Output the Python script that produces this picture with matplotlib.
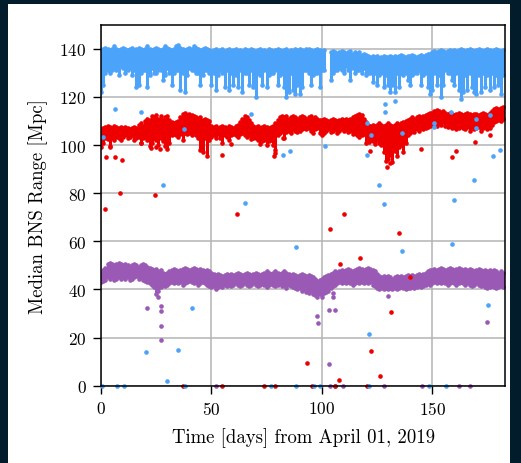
import numpy as np
import matplotlib
matplotlib.use("Agg")
import matplotlib.pyplot as plt
from matplotlib.patches import Rectangle

plt.rcParams['font.family'] = 'serif'
plt.rcParams['font.serif'] = ['cmr10']
plt.rcParams['mathtext.fontset'] = 'cm'
plt.rcParams['axes.formatter.use_mathtext'] = True

nan = np.nan

# daily upper / lower edge of each detector's range band (Mpc), day 0 = April 1
blue_top = [
    139, 140, 140.5, 140, 139.5, 140, 141, 140, 139.5, 140,
    140.5, 140, 139.5, 140, 140.5, 139, 140, 140.5, 140, 139.5,
    140, 141, 140, 139.5, 140, 140.5, 140, 139.5, 140, 141,
    140.5, 140, 139.5, 140, 141, 141.5, 140.5, 140, 139.5, 140,
    140.5, 140, 141, 140.5, 140, 139.5, 140, 140.5, 140, 139.5,
    139, 139.5, 140, 139, 139.5, 140, 139, 139.5, 140, 139,
    139.5, 140, 139, 139.5, 139, 140, 139.5, 139, 140, 139.5,
    139, 139.5, 140, 139, 139.5, 139, 140, 139.5, 139, 139.5,
    140, 139.5, 139, 139.5, 140, 139, 139.5, 139, 140, 139.5,
    140, 139.5, 139, 140, 140, 139.5, 139, 139.5, 140, 139.5,
    139, 139.5, nan, nan, 138.5, 139, 138.5, 138, 138.5, 139,
    138.5, 138, 138.5, 139, 138, 138.5, 138, 138.5, 137.5, 138,
    137.5, 137, 136.5, 137, 136.5, 137, 136, 136.5, 137, 136.5,
    136.5, 137, 136.5, 137, 136.5, 137, 137.5, 137, 136.5, 137,
    137, 137.5, 137, 136.5, 137, 137.5, 137, 137.5, 138, 138,
    138.5, 139, 138.5, 139, 139.5, 139, 138.5, 139, 139.5, 139,
    139.5, 139, 139.5, 140, 139.5, 139, 139.5, 140, 139.5, 139,
    139.5, 140, 139.5, 139, 139.5, 140, 139.5, 139, 139.5, 140,
    139.5, 139, 139.5,
]
blue_low = [
    122, 125, 130, 131, 130, 131, 132, 131, 129, 133,
    132, 130, 131, 132, 129, 131, 124, 125, 130, 131,
    131, 124, 129, 132, 130, 130, 131, 131, 127, 129,
    132, 130, 125, 130, 131, 131, 123, 130, 122, 129,
    132, 131, 131, 130, 130, 125, 129, 131, 131, 130,
    125, 130, 123, 129, 131, 130, 124, 131, 123, 130,
    125, 129, 124, 131, 122, 130, 130, 125, 131, 124,
    120, 130, 129, 125, 131, 124, 129, 130, 130, 131,
    125, 129, 130, 124, 120, 122, 130, 123, 121, 125,
    121, 124, 131, 131, 130, 125, 129, 130, 130, 124,
    131, 131, nan, nan, 127, 130, 131, 131, 132, 131,
    130, 133, 131, 127, 132, 130, 131, 131, 130, 132,
    129, 130, 130, 126, 130, 125, 129, 130, 124, 129,
    125, 122, 125, 122, 130, 124, 130, 129, 130, 127,
    125, 129, 130, 130, 131, 125, 129, 130, 124, 121,
    123, 130, 125, 129, 120, 125, 131, 130, 130, 127,
    125, 130, 123, 119, 122, 129, 123, 130, 124, 122,
    121, 129, 122, 130, 124, 129, 123, 130, 124, 129,
    125, 121, 129,
]

red_top = [
    106.5, 107, 107.5, 108, 107.5, 107, 108, 107.5, 107, 107.5,
    107, 107.5, 107, 106.5, 107, 107.5, 107, 108.5, 109, 108,
    110, 111, 110.5, 112, 111.5, 112.5, 111, 112, 110.5, 111.5,
    112, 110.5, 109.5, 109, 109.5, 110, 111.5, 113, 113.5, 112.5,
    113, 112.5, 112, 111.5, 111, 111.5, 110.5, 111, 110.5, 110,
    108, 107.5, 108, 107, 107.5, 108, 107.5, 107, 108, 107.5,
    107, 108, 108.5, 109.5, 111, 112, 111.5, 110.5, 109, 108,
    107.5, 108, 107, 107.5, 108, 107.5, 107, 107.5, 108, 109,
    110.5, 111.5, 112, 111.5, 112, 111, 111.5, 112, 111.5, 111,
    111.5, 112, 111.5, 111, 111.5, 112, 111, 111.5, 111, 110.5,
    110.5, 111, 110.5, 110, 110.5, 111, 110.5, 110, 110.5, 111,
    110.5, 111, 110.5, 111, 111.5, 112, 112.5, 113, 112.5, 111,
    109.5, 108.5, 108, 108.5, 108, 108.5, 109, 108.5, 108, 108.5,
    109, 108.5, 108, 108.5, 109, 108.5, 109, 109.5, 110, 110.5,
    111, 111.5, 111, 111.5, 112, 111.5, 112, 112.5, 113, 113.5,
    113.5, 114, 114.5, 114, 113.5, 114, 113.5, 113, 113.5, 113,
    112.5, 113, 113.5, 113, 112.5, 113, 113.5, 113, 112.5, 113,
    113, 112.5, 113, 113.5, 113, 112.5, 113.5, 114, 115, 115.5,
    115, 115.5, 116,
]
red_low = [
    99, 101, 103, 102.5, 99.5, 103, 102, 103.5, 103, 102,
    103.5, 104, 103, 103.5, 104, 102, 103, 103.5, 101, 103,
    103.5, 102, 99.5, 101, 103, 102, 100, 103, 101.5, 99.5,
    98.5, 101, 104, 104.5, 104, 103.5, 104.5, 102, 105, 104.5,
    105, 104, 105.5, 104, 103, 98, 97, 103, 95.5, 102,
    103.5, 104, 103, 104.5, 103, 101, 104, 103.5, 102, 104,
    104.5, 104, 103.5, 104.5, 105, 104, 103.5, 104, 102.5, 103,
    103, 102, 100.5, 101.5, 102, 100, 101.5, 102, 100, 98,
    104, 105, 106, 103, 105.5, 106, 105, 106.5, 106, 105.5,
    106, 106.5, 107, 106.5, 107, 106, 105, 106.5, 107, 105,
    104, 105, 106, 106.5, 105.5, 106, 106.5, 105, 106, 106.5,
    106, 106.5, 105.5, 106, 104.5, 105, 104, 103.5, 104, 104.5,
    101, 103, 102, 101.5, 100.5, 102, 101, 100, 97, 93.5,
    94, 96, 93, 97.5, 95.5, 99, 100, 97, 101, 104,
    105, 106, 105.5, 106.5, 106, 107, 106.5, 107, 107.5, 108,
    108.5, 109, 108, 109, 108.5, 109.5, 108, 107.5, 108, 107,
    107.5, 106.5, 107, 108, 107, 106.5, 107.5, 106, 107, 106.5,
    107, 107.5, 106, 107, 107.5, 106.5, 107, 108.5, 109.5, 110,
    110.5, 110, 111,
]

purple_top = [
    47, 48, 49, 50.5, 51, 50.5, 50, 50.5, 51, 50.5,
    50, 50.5, 50, 49.5, 50, 50.5, 50, 49.5, 50, 50.5,
    50, 49.5, 49, 48.5, 48, 48.5, 47.5, 48, 47, 46.5,
    47, 47.5, 48, 48.5, 48, 47.5, 48, 48.5, 49, 48.5,
    48, 48.5, 49, 48.5, 48, 48.5, 48, 47.5, 48, 47.5,
    47, 46.5, 46, 46.5, 46, 45.5, 46, 46.5, 46, 46.5,
    46, 46.5, 47, 46.5, 46, 46.5, 47, 46.5, 46, 46.5,
    47, 46.5, 46, 46.5, 47, 47.5, 47, 46.5, 47, 47.5,
    47, 46.5, 47, 47.5, 47, 46.5, 46, 46.5, 46, 45.5,
    46, 46.5, 46, 45.5, 46, 45.5, 45, 44.5, 43.5, 44,
    44.5, 45, 45.5, 46, 46.5, 47, 47.5, 47, 47.5, 48,
    47.5, 48, 48.5, 48, 47.5, 48, 48.5, 49, 48.5, 48,
    48.5, 49, 48.5, 48, 47.5, 46.5, 45.5, 45, 45.5, 45,
    45.5, 45, 44.5, 45, 45.5, 45, 45.5, 45, 45.5, 46,
    45.5, 46, 45.5, 46, 46.5, 46, 46.5, 47, 47.5, 48,
    48, 48.5, 48, 48.5, 49, 48.5, 48, 48.5, 49, 48.5,
    48, 48.5, 49, 48.5, 48, 48.5, 48, 48.5, 48, 47.5,
    48, 48.5, 48, 47.5, 48, 47.5, 48, 47.5, 48, 47.5,
    47, 47.5, 47,
]
purple_low = [
    43, 43.5, 44, 45, 44.5, 45, 44, 44.5, 45, 44.5,
    45, 44.5, 45, 44, 44.5, 45, 45.5, 44.5, 45, 44,
    43.5, 43, 42.5, 42, 41, 38, 40.5, 41, 42, 41.5,
    42, 42.5, 43, 42.5, 43, 42.5, 43, 42, 42.5, 43,
    43.5, 43, 42.5, 43, 42, 42.5, 43, 42.5, 42, 41.5,
    41, 41.5, 40, 41, 41.5, 41, 42, 41.5, 42, 41.5,
    42, 42.5, 42, 41.5, 42, 42.5, 42, 41.5, 42, 42.5,
    42, 41.5, 42, 42.5, 42, 41, 42, 42.5, 42, 41.5,
    42, 42.5, 41.5, 42, 40.5, 42, 41.5, 41, 40.5, 40,
    40.5, 39.5, 40, 39, 38.5, 39.5, 38, 37.5, 37, 38,
    37, 38.5, 39, 39.5, 40.5, 41.5, 42, 42.5, 43, 42.5,
    43, 42.5, 43, 42.5, 42, 42.5, 43, 42.5, 43, 42.5,
    43, 42.5, 43, 42, 41.5, 40.5, 40, 40.5, 40, 40.5,
    40, 40.5, 40, 40.5, 40, 40.5, 41, 40.5, 40, 40.5,
    40.5, 41, 40.5, 41, 41.5, 41, 41.5, 42, 42.5, 42,
    42.5, 43, 42.5, 43, 42.5, 43, 42.5, 42, 42.5, 43,
    42.5, 42, 42.5, 43, 42.5, 42, 42.5, 42, 41.5, 42,
    42.5, 42, 41.5, 42, 41, 40.5, 41, 41.5, 41, 40.5,
    41, 41.5, 41,
]

# isolated samples away from the bands: (day, range)
blue_extra = [
    (0.3, 0), (7.1, 0), (10.4, 0), (38.2, 0), (77.2, 0), (88.5, 0), (96.7, 0),
    (99.0, 0), (121.6, 0), (148.7, 0), (156.3, 0), (29.9, 2.0), (20.5, 13.9),
    (34.8, 14.8), (41.3, 32.4), (88.2, 57.5), (28.0, 83.4), (65.0, 76.0),
    (126.0, 83.4), (128.0, 75.5), (160.0, 77.2), (169.0, 85.5), (136.4, 56.0),
    (158.8, 58.9), (121.5, 21.4), (175.5, 33.7), (101.3, 99.8), (128.8, 117.1),
    (128.5, 113.7), (133.2, 118.3), (120.6, 96.0), (122.1, 104.0), (120.4, 109.1),
    (136.4, 105.0), (151.0, 109.2), (151.0, 107.5), (158.5, 113.7), (169.8, 110.9),
    (169.8, 107.2), (176.3, 112.6), (180.8, 98.0), (177.4, 95.6), (6.3, 114.9),
    (18.1, 113.8), (37.4, 106.5), (68.1, 112.7), (0.9, 103.3), (82.3, 95.9),
    (85.7, 97.7),
]
red_extra = [
    (2.4, 95.0), (3.9, 99.0), (6.5, 95.0), (9.6, 93.9), (18.2, 101.0), (22.7, 98.7),
    (25.0, 99.0), (26.5, 98.2), (55.0, 95.9), (58.9, 100.4), (78.5, 95.5),
    (78.8, 96.5), (82.3, 103.0), (121.9, 97.5), (121.2, 101.3), (145.0, 98.4),
    (159.0, 95.0), (160.8, 97.5), (169.4, 101.2), (176.3, 104.0), (129.5, 91.0),
    (131.0, 92.5), (1.8, 73.4), (8.6, 80.0), (24.4, 79.3), (61.5, 71.4),
    (93.3, 9.3), (103.8, 65.2), (107.9, 2.5), (108.4, 50.6), (110.0, 71.4),
    (117.4, 53.1), (122.1, 14.4), (126.6, 4.0), (131.4, 30.8), (135.2, 63.4),
    (140.1, 45.3), (37.0, 0), (55.0, 0), (74.0, 0), (78.7, 0), (95.5, 0),
    (105.8, 0), (120.7, 0),
]
purple_extra = [
    (20.7, 32.4), (25.6, 39.5), (25.6, 37.0), (27.1, 33.3), (27.1, 30.9),
    (27.1, 24.7), (27.1, 19.0), (98.0, 28.9), (98.4, 26.2), (103.2, 31.6),
    (105.9, 31.3), (103.2, 9.1), (104.9, 38.5), (104.9, 36.9), (129.9, 37.4),
    (174.8, 26.6), (52.0, 0), (103.5, 0), (105.8, 0), (109.4, 0), (128.4, 0),
    (145.6, 0), (162.3, 0), (167.0, 0),
]

blue = '#4ba3fa'
red = '#ee0000'
purple = '#9b59b6'

days = np.arange(len(blue_top))

fig = plt.figure(figsize=(5.21, 4.64), dpi=100, facecolor='#031c2c')
fig.patches.append(Rectangle((0.0154, 0), 0.9635, 0.9892, transform=fig.transFigure,
                             facecolor='white', edgecolor='none', zorder=-10))
ax = fig.add_axes([0.1939, 0.1666, 0.7754, 0.778])
ax.set_facecolor('white')


def draw_detector(top, low, extra, color, z):
    top = np.array(top, dtype=float)
    low = np.array(low, dtype=float)
    ax.vlines(days, low, top, colors=color, linewidth=2.2, zorder=z)
    ax.scatter(days, top, s=11, color=color, linewidths=0, zorder=z)
    ax.scatter(days, low, s=11, color=color, linewidths=0, zorder=z)
    ex = np.array(extra)
    ax.scatter(ex[:, 0], ex[:, 1], s=11, color=color, linewidths=0, zorder=z + 0.5,
               clip_on=False)


draw_detector(purple_top, purple_low, purple_extra, purple, 3)
draw_detector(red_top, red_low, red_extra, red, 4)
draw_detector(blue_top, blue_low, blue_extra, blue, 5)

ax.set_xlim(0, 183)
ax.set_ylim(0, 150)
ax.set_xticks([0, 50, 100, 150])
ax.set_yticks([0, 20, 40, 60, 80, 100, 120, 140])
ax.grid(True, color='#b4b4b4', linewidth=1.1)
ax.set_axisbelow(True)
ax.tick_params(direction='out', length=5.5, width=1, pad=5, labelsize=12.5,
               colors='black')
for s in ax.spines.values():
    s.set_linewidth(1.1)
    s.set_zorder(10)

ax.set_xlabel('Time [days] from April 01, 2019', fontsize=13.5, labelpad=7)
ax.set_ylabel('Median BNS Range [Mpc]', fontsize=13.5, labelpad=8)

fig.savefig('out.png', dpi=100, facecolor=fig.get_facecolor())
